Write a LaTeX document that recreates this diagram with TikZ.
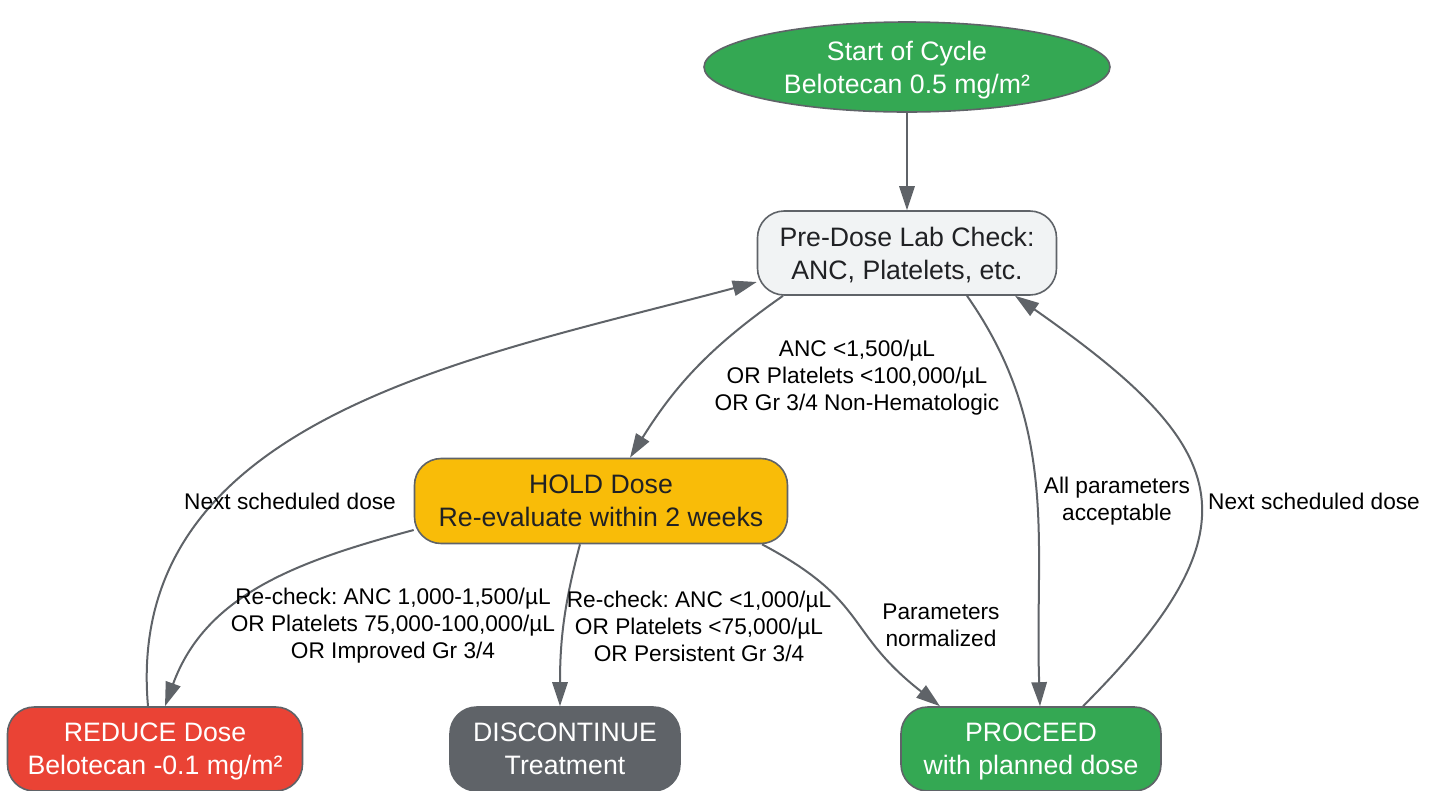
\documentclass[tikz,border=0pt]{standalone}
\usepackage{fontspec}
\setmainfont{Liberation Sans}
\usetikzlibrary{arrows.meta,shapes.geometric,positioning,calc}
\definecolor{gline}{HTML}{5F6368}
\definecolor{gtext}{HTML}{202124}
\definecolor{ggreen}{HTML}{34A853}
\definecolor{gred}{HTML}{EA4335}
\definecolor{gamber}{HTML}{F9BC08}
\definecolor{glight}{HTML}{F1F3F4}
\frenchspacing

\begin{document}
\begin{tikzpicture}[x=0.75pt,y=-0.75pt]
\tikzset{BoxStyle/.style = {shape          = rectangle,
                             rounded corners = 20pt,
                             draw           = gline,
                             line width     = 1.2pt,
                             inner sep      = 0pt,
                             align          = center,
                             text depth     = 0pt,
                             font           = \fontsize{20}{24.75}\selectfont},
         EdgeStyle/.style = {draw=gline, line width=1.5pt,
                             -{Triangle[length=18pt,width=11.5pt]}},
         LabelStyle/.style = {align=center, text=black,
                              font=\fontsize{17}{20.25}\selectfont}}
\useasboundingbox (0,0) rectangle (1439,790);
     \node[ellipse,draw=gline,line width=1.2pt,fill=ggreen,text=white,align=center,
           minimum width=304.5pt,minimum height=67.5pt,inner sep=0pt,text depth=0pt,
           font=\fontsize{20}{24.75}\selectfont] (start) at (907,67)
           {Start of Cycle\\Belotecan 0.5 mg/m²};
     \node[BoxStyle,fill=glight,text=gtext,minimum width=224.25pt,minimum height=63pt] (pre) at (907,253)
           {Pre-Dose Lab Check:\\ANC, Platelets, etc.};
     \node[BoxStyle,fill=gamber,text=gtext,minimum width=279.75pt,minimum height=63.75pt] (hold) at (601,501)
           {HOLD Dose\\Re-evaluate within 2 weeks};
     \node[BoxStyle,fill=gred,text=white,minimum width=221.25pt,minimum height=63pt] (reduce) at (155,749)
           {REDUCE Dose\\Belotecan -0.1 mg/m²};
     \node[BoxStyle,fill=gline,text=white,minimum width=172.5pt,minimum height=63pt] (disc) at (565,749)
           {DISCONTINUE\\Treatment};
     \node[BoxStyle,fill=ggreen,text=white,minimum width=195pt,minimum height=63pt] (proceed) at (1031,749)
           {PROCEED\\with planned dose};

     \draw[EdgeStyle] (start) -- (pre);
     \draw[EdgeStyle] ($(pre.south)+(-124,0)$) to[out=215,in=58] ($(hold.north)+(29,0)$);
     \draw[EdgeStyle] ($(pre.south)+(60,0)$) to[out=-55,in=92] ($(proceed.north)+(9,0)$);
     \draw[EdgeStyle] ($(proceed.north)+(52,0)$) to[out=45,in=-35,looseness=1.6] ($(pre.south)+(108,0)$);
     \draw[EdgeStyle] ($(hold.west)+(0,29)$) to[out=195,in=70] ($(reduce.north)+(10,0)$);
     \draw[EdgeStyle] ($(hold.south)+(-21,0)$) to[out=-105,in=90] ($(disc.north)+(-5,0)$);
     \draw[EdgeStyle] ($(hold.south)+(161,0)$) to[out=-28,in=142,looseness=1.3] ($(proceed.north)+(-91,0)$);
     \draw[EdgeStyle] ($(reduce.north)+(-7,0)$) to[out=95,in=195] ($(pre.west)+(0,29)$);

     \node[LabelStyle] (l1) at (857,378) {ANC <1,500/µL\\OR Platelets <100,000/µL\\OR Gr 3/4 Non-Hematologic};
     \node[LabelStyle] (l2) at (1117,501) {All parameters\\acceptable};
     \node[LabelStyle] (l3) at (1314,501) {Next scheduled dose};
     \node[LabelStyle] (l4) at (393,626) {Re-check: ANC 1,000-1,500/µL\\OR Platelets 75,000-100,000/µL\\OR Improved Gr 3/4};
     \node[LabelStyle] (l5) at (699,626) {Re-check: ANC <1,000/µL\\OR Platelets <75,000/µL\\OR Persistent Gr 3/4};
     \node[LabelStyle] (l6) at (941,625) {Parameters\\normalized};
     \node[LabelStyle] (l7) at (290,501) {Next scheduled dose};
\end{tikzpicture}
\end{document}
